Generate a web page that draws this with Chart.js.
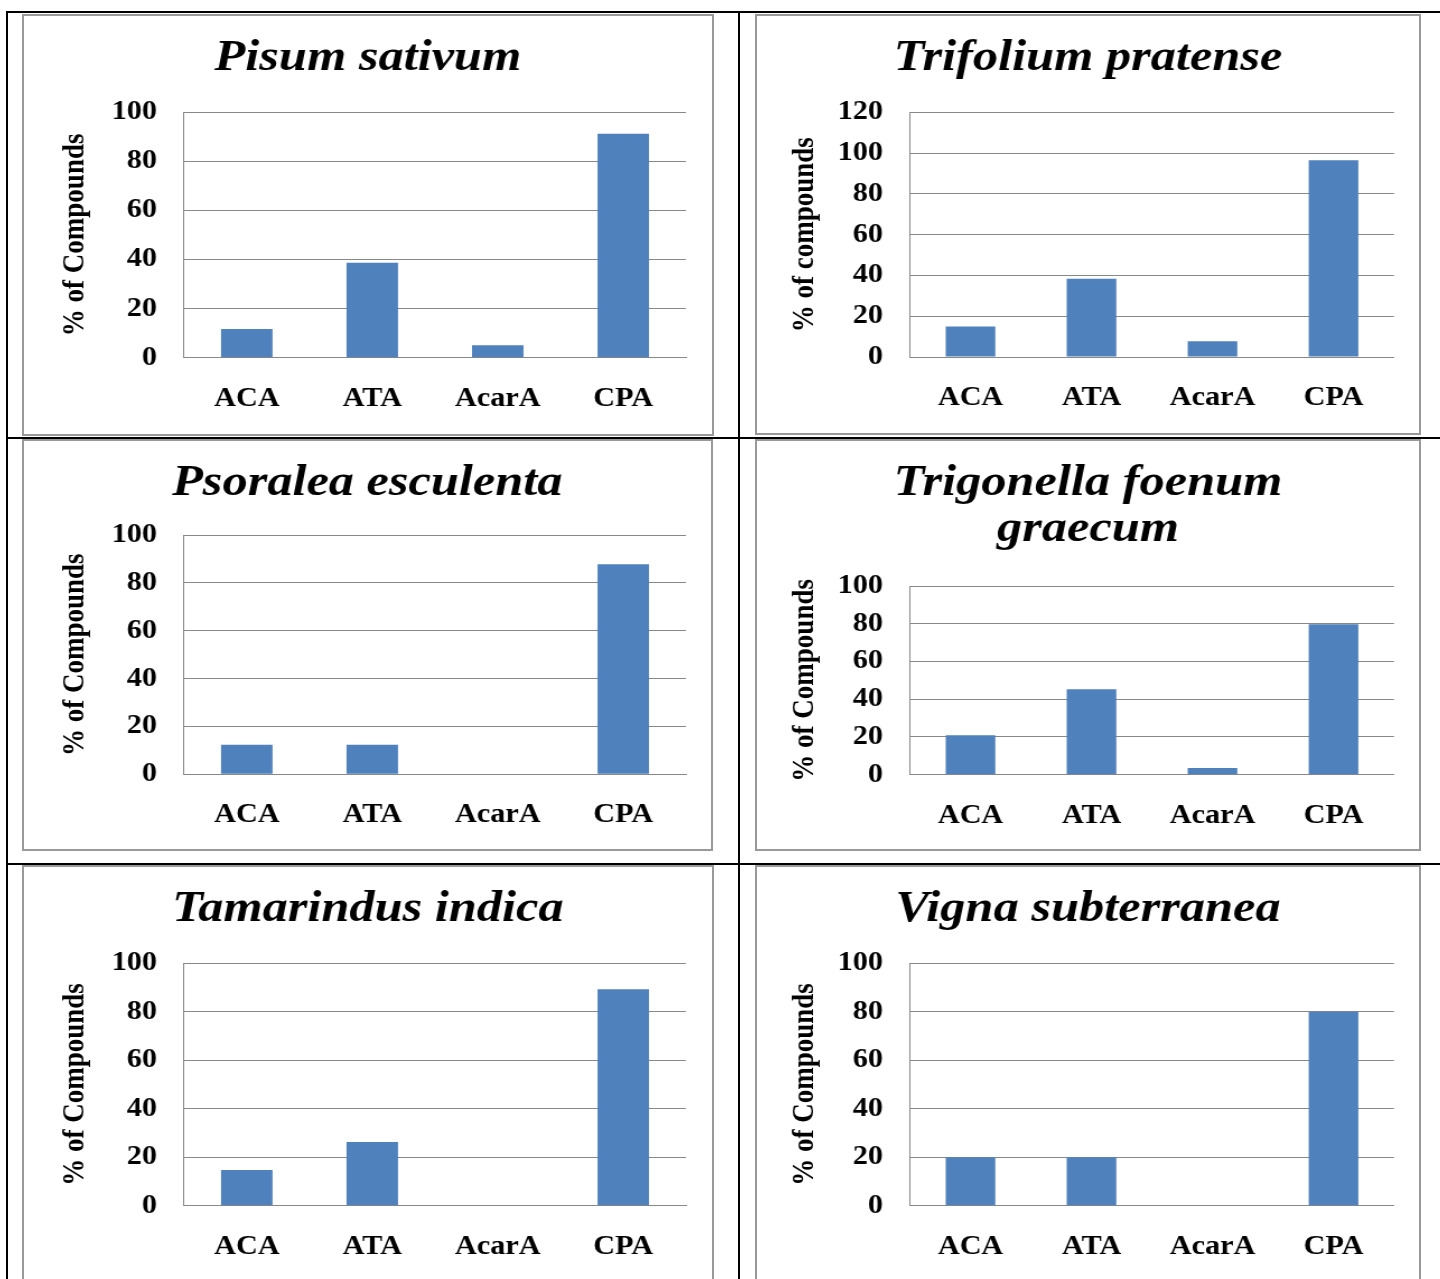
<!DOCTYPE html>
<html lang="en">
<head>
<meta charset="UTF-8">
<title>% of Compounds by species</title>
<script src="https://cdn.jsdelivr.net/npm/chart.js"></script>
<style>
  html, body { margin: 0; padding: 0; background: #fff; }
  body { width: 1440px; height: 1279px; position: relative; overflow: hidden; }
  .rule { position: absolute; background: #000; }
  .box { position: absolute; border: 2px solid #999; box-sizing: border-box; overflow: hidden; background: #fff; }
  .box canvas { position: absolute; left: 0; top: 0; transform-origin: 0 0; }
</style>
</head>
<body>
<!-- table rules -->
<div class="rule" style="left:6px;top:11px;width:1434px;height:2px"></div>
<div class="rule" style="left:6px;top:437px;width:1434px;height:2px"></div>
<div class="rule" style="left:6px;top:863px;width:1434px;height:2px"></div>
<div class="rule" style="left:6px;top:11px;width:2px;height:1268px"></div>
<div class="rule" style="left:738px;top:11px;width:2px;height:1268px"></div>

<script>
// data
const categories = ['ACA', 'ATA', 'AcarA', 'CPA'];
const pisumSativum = [11.7, 38.6, 5.1, 91.1];
const trifoliumPratense = [15.0, 38.4, 7.7, 96.5];
const psoraleaEsculenta = [12.4, 12.4, 0, 87.8];
const trigonellaFoenumGraecum = [20.9, 45.3, 3.5, 79.7];
const tamarindusIndica = [14.7, 26.3, 0, 89.3];
const vignaSubterranea = [20, 20, 0, 80];

const speciesTitles = ['Pisum sativum', 'Trifolium pratense', 'Psoralea esculenta',
  ['Trigonella foenum', 'graecum'], 'Tamarindus indica', 'Vigna subterranea'];
const yAxisTitles = ['% of Compounds', '% of compounds', '% of Compounds',
  '% of Compounds', '% of Compounds', '% of Compounds'];
const yMax = [100, 120, 100, 100, 100, 100];
const yStep = 20;

const series = [pisumSativum, trifoliumPratense, psoraleaEsculenta,
  trigonellaFoenumGraecum, tamarindusIndica, vignaSubterranea];

// page layout in px: chart box and plot area
const boxes = [[22, 14, 692, 422], [755, 14, 666, 421],
               [22, 439, 691, 412], [755, 439, 666, 412],
               [22, 865, 692, 430], [755, 865, 666, 430]];
const plots = [[184, 112, 686, 357.7], [910, 112.3, 1394, 357],
               [184, 535, 686, 774.3], [910, 586, 1394, 774.7],
               [184, 963.3, 686, 1205.7], [910, 963.3, 1394, 1205.7]];
const axisTitleX = [75, 805, 75, 805, 75, 805];
const titleMid = 42;   // centre of first title line, from top of box
const S = 1.12;        // the source picture is stretched sideways
const BORDER = 2;
const SERIF = "'Liberation Serif', 'Times New Roman', serif";
const GRID = '#888';
const BAR = '#4f81bd';

series.forEach((values, i) => {
  const [bx, by, bw, bh] = boxes[i];
  const [pl, pt, pr, pb] = plots[i];

  const box = document.createElement('div');
  box.className = 'box';
  box.style.left = bx + 'px';
  box.style.top = by + 'px';
  box.style.width = bw + 'px';
  box.style.height = bh + 'px';
  document.body.appendChild(box);

  const cw = Math.round((bw - 2 * BORDER) / S);
  const ch = bh - 2 * BORDER;
  const canvas = document.createElement('canvas');
  canvas.width = cw;
  canvas.height = ch;
  canvas.style.transform = `scaleX(${S})`;
  box.appendChild(canvas);

  // convert page coords to canvas coords
  const ox = bx + BORDER, oy = by + BORDER;
  const plotL = (pl - ox) / S, plotR = (pr - ox) / S;
  const plotT = pt - oy, plotB = pb - oy;
  const side = cw - plotR;   // same padding both sides keeps the title centred

  const title = speciesTitles[i];
  const lines = Array.isArray(title) ? title.length : 1;
  const tLH = lines > 1 ? 46 : 50;
  const tPadTop = titleMid - tLH / 2;
  const tPadBottom = plotT - tPadTop - lines * tLH;
  const ayLH = 27 * 1.2;
  const ayPad = (axisTitleX[i] - ox) / S - side - ayLH / 2;

  new Chart(canvas, {
    type: 'bar',
    data: {
      labels: categories,
      datasets: [{
        data: values,
        backgroundColor: BAR,
        borderWidth: 0,
        categoryPercentage: 1,
        barPercentage: 0.41
      }]
    },
    options: {
      responsive: false,
      animation: false,
      layout: { padding: { left: side, top: 0, right: side, bottom: 0 } },
      plugins: {
        legend: { display: false },
        tooltip: { enabled: false },
        title: {
          display: true,
          text: title,
          color: '#000',
          font: { family: SERIF, size: 45, style: 'italic', weight: 'bold', lineHeight: tLH + 'px' },
          padding: { top: tPadTop, bottom: tPadBottom }
        }
      },
      scales: {
        x: {
          grid: { display: true, drawOnChartArea: false, drawTicks: false, color: GRID },
          border: { display: true, color: GRID, width: 1 },
          ticks: { color: '#000', font: { family: SERIF, size: 27, weight: 'bold' }, padding: 25 },
          afterFit(scale) { scale.height = ch - plotB; }
        },
        y: {
          min: 0,
          max: yMax[i],
          ticks: { stepSize: yStep, color: '#000', font: { family: SERIF, size: 27, weight: 'bold' }, padding: 24 },
          grid: { color: GRID, drawTicks: false },
          border: { display: true, color: GRID, width: 1 },
          title: {
            display: true,
            text: yAxisTitles[i],
            color: '#000',
            font: { family: SERIF, size: 27, weight: 'bold', lineHeight: 1.2 },
            padding: { top: ayPad, bottom: 0 }
          },
          afterFit(scale) { scale.width = plotL - side; }
        }
      }
    }
  });
});
</script>
</body>
</html>
